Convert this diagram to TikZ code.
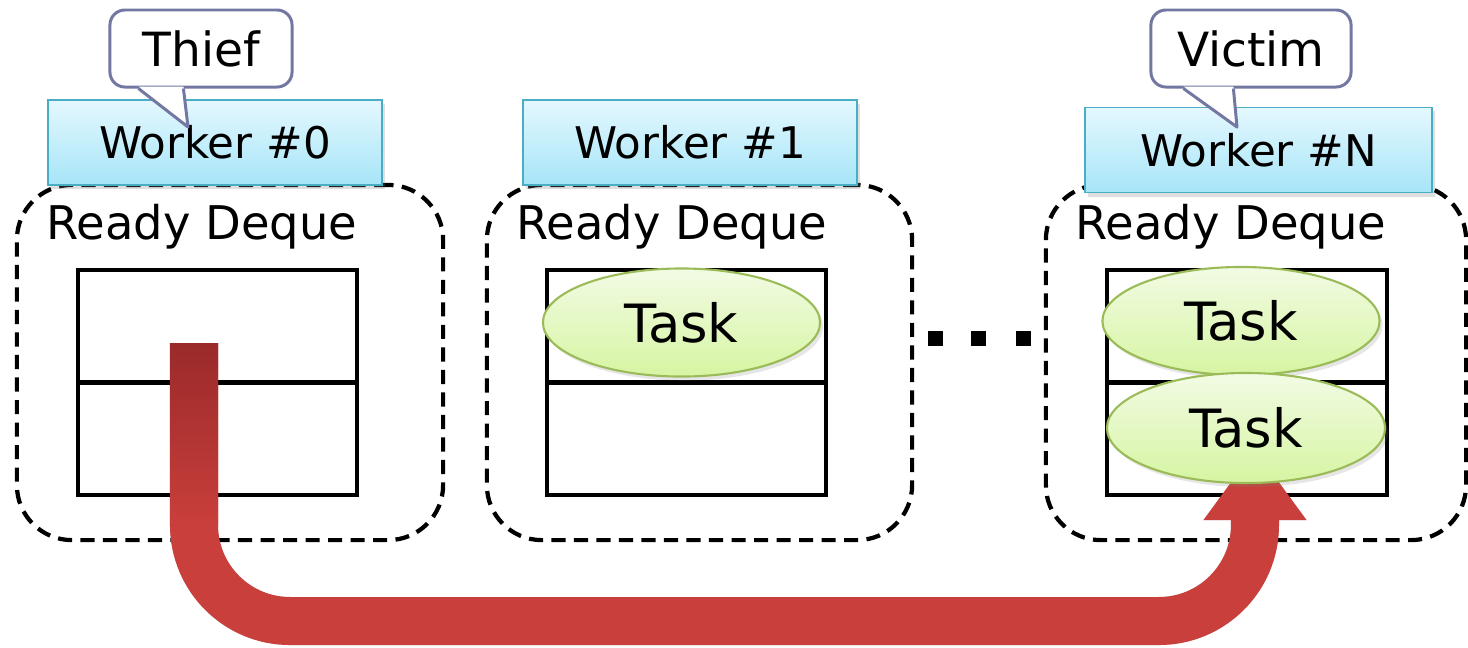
\documentclass[tikz,border=0pt]{standalone}
\usepackage{fontspec}
\setmainfont{DejaVu Sans}
\usepackage{tikz}
\usetikzlibrary{positioning,calc,shapes.geometric,shadows,arrows.meta}
\definecolor{worker-top}{HTML}{E4F8FE}
\definecolor{worker-bottom}{HTML}{A6E5F8}
\definecolor{worker-line}{HTML}{4BACC6}
\definecolor{task-top}{HTML}{F2FBE4}
\definecolor{task-bottom}{HTML}{D6F5A2}
\definecolor{task-line}{HTML}{9BBB59}
\definecolor{callout-line}{HTML}{7378A3}
\definecolor{steal-red}{HTML}{C93F3B}
\definecolor{steal-dark}{HTML}{9A2A2A}
\tikzset{
    ready-box/.style = {draw, line width=1.2pt, dash pattern=on 4pt off 2.4pt, rectangle, rounded corners=0.55cm, minimum height=3.55cm, inner sep=0pt},
    ready-title/.style = {font=\fontsize{13.2}{15}\selectfont, inner sep=0pt},
    worker-box/.style = {draw=worker-line, line width=0.5pt, top color=worker-top, bottom color=worker-bottom, rectangle, minimum width=3.34cm, minimum height=0.85cm, font=\fontsize{12.4}{14}\selectfont, drop shadow={shadow xshift=0.03cm, shadow yshift=-0.04cm, opacity=0.25}},
    deque-slot/.style = {draw, line width=1.25pt, rectangle, minimum width=2.79cm, minimum height=1.125cm, inner sep=0pt, outer sep=0pt},
    task-node/.style = {draw=task-line, line width=0.6pt, top color=task-top, bottom color=task-bottom, ellipse, minimum width=2.77cm, minimum height=1.08cm, inner sep=0pt, font=\fontsize{15}{18}\selectfont, drop shadow={shadow xshift=0.03cm, shadow yshift=-0.04cm, opacity=0.2}},
    callout-box/.style = {draw=callout-line, line width=0.85pt, fill=white, rectangle, rounded corners=0.15cm, minimum width=1.82cm, minimum height=0.77cm, font=\fontsize{13.4}{16}\selectfont},
    callout-tail/.style = {draw=callout-line, line width=0.85pt, line join=round},
    steal-arrow/.style = {draw=steal-red, line width=0.48cm, rounded corners=0.96cm, -{Triangle[width=0.98cm,length=0.71cm]}},
    dot-mark/.style = {fill, rectangle, minimum size=0.15cm, inner sep=0pt},
}
\begin{document}
\begin{tikzpicture}[x=0.01cm, y=-0.01cm]
\useasboundingbox (0,0) rectangle (1468,647);

% ready deques of the workers
\node [ready-box, minimum width=4.26cm] (ready0) at (230,362.5) {};
\node [ready-box, minimum width=4.25cm] (ready1) at (699.5,362.5) {};
\node [ready-box, minimum width=4.20cm] (readyN) at (1256,362.5) {};
\node [ready-title, anchor=base west] (title0) at ($(ready0.north west)+(31,57)$) {Ready Deque};
\node [ready-title, anchor=base west] (title1) at ($(ready1.north west)+(31,57)$) {Ready Deque};
\node [ready-title, anchor=base west] (titleN) at ($(readyN.north west)+(31,57)$) {Ready Deque};

\node [worker-box] (worker0) at (215,142.5) {Worker \#0};
\node [worker-box] (worker1) at (690,142.5) {Worker \#1};
\node [worker-box, minimum width=3.47cm] (workerN) at (1258.5,150) {Worker \#N};

\node [deque-slot] (slot0a) at (217.5,326.25) {};
\node [deque-slot, below=0pt of slot0a] (slot0b) {};
\node [deque-slot] (slot1a) at (686.5,326.25) {};
\node [deque-slot, below=0pt of slot1a] (slot1b) {};
\node [deque-slot, minimum width=2.80cm] (slotNa) at (1247,326.25) {};
\node [deque-slot, minimum width=2.80cm, below=0pt of slotNa] (slotNb) {};

\node [dot-mark] (dot1) at (935.5,338.5) {};
\node [dot-mark, right=0.27cm of dot1] (dot2) {};
\node [dot-mark, right=0.28cm of dot2] (dot3) {};

% stealing
\coordinate (steal-from) at (194,343);
\coordinate (steal-to) at (1255,449);
\coordinate (steal-floor) at (0,621);
\draw [steal-arrow, draw=black, opacity=0.18, shift={(4,5)}] (steal-from) -- (steal-from |- steal-floor) -- (steal-to |- steal-floor) -- (steal-to);
\draw [steal-arrow] (steal-from) -- (steal-from |- steal-floor) -- (steal-to |- steal-floor) -- (steal-to);
\shade [top color=steal-dark, bottom color=steal-red] ($(steal-from)+(-24,0)$) rectangle ($(steal-from)+(24,182)$);

\node [task-node] (task1) at (681.5,322.5) {Task};
\node [task-node] (taskNa) at (1241,321) {Task};
\node [task-node, minimum width=2.78cm, minimum height=1.10cm] (taskNb) at (1246,428) {Task};

% speech bubbles
\node [callout-box] (thief) at (201,48.5) {Thief};
\coordinate (thief-tip) at (188,127);
\fill [white] ($(thief.south west)+(30,-2)$) -- (thief-tip) -- ($(thief.south west)+(75,-2)$) -- cycle;
\draw [callout-tail] ($(thief.south west)+(30,0)$) -- (thief-tip) -- ($(thief.south west)+(75,0)$);

\node [callout-box, minimum width=2.00cm] (victim) at (1251,48.5) {Victim};
\coordinate (victim-tip) at (1237,127);
\fill [white] ($(victim.south west)+(34,-2)$) -- (victim-tip) -- ($(victim.south west)+(84,-2)$) -- cycle;
\draw [callout-tail] ($(victim.south west)+(34,0)$) -- (victim-tip) -- ($(victim.south west)+(84,0)$);
\end{tikzpicture}
\end{document}
